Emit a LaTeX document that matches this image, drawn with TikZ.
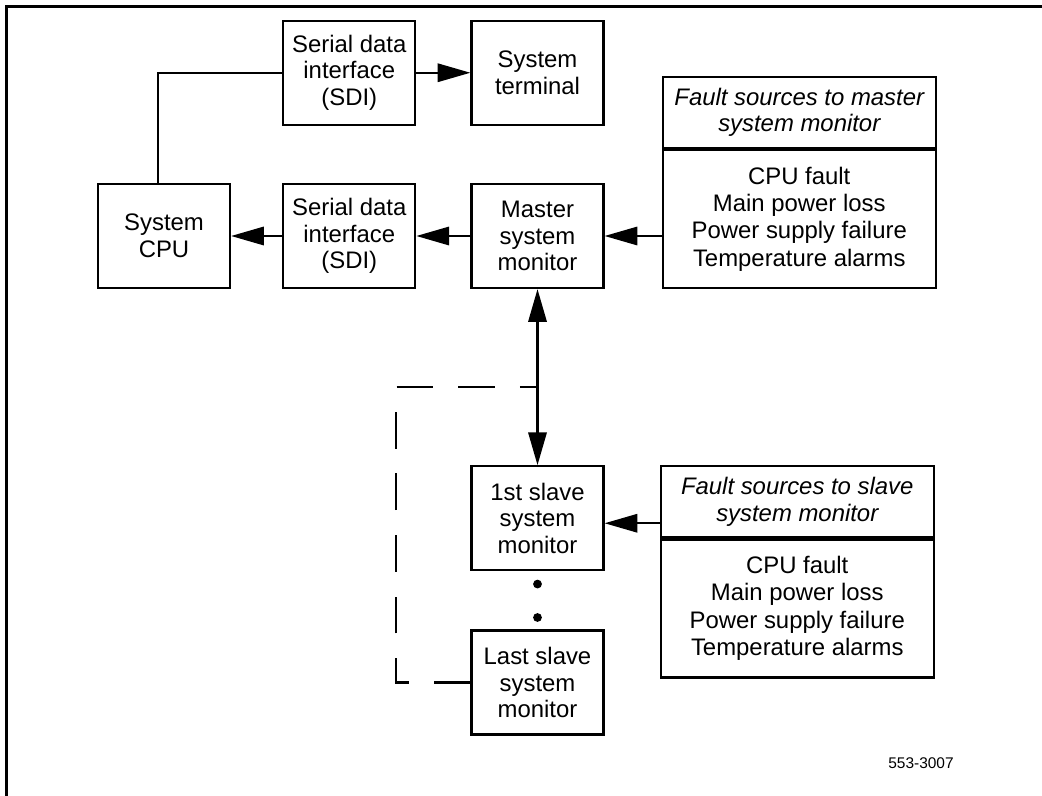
\documentclass[tikz,border=0pt]{standalone}
\usepackage{fontspec}
\setmainfont{Liberation Sans}
\usetikzlibrary{positioning,arrows.meta,calc}

\begin{document}
\begin{tikzpicture}[node distance=1.35cm,
  box/.style={draw, rectangle, line width=1.6pt, minimum width=3.3cm, minimum height=2.6cm, align=center, font=\fontsize{17}{19}\selectfont},
  faulthead/.style={draw, rectangle, line width=1.6pt, minimum width=6.825cm, minimum height=1.775cm, align=center, font=\fontsize{17}{19}\selectfont\itshape},
  faultbody/.style={draw, rectangle, line width=1.6pt, minimum width=6.825cm, minimum height=3.45cm, align=center, font=\fontsize{17}{19.5}\selectfont},
  link/.style={line width=1.5pt},
  flow/.style={line width=1.5pt, -{Triangle[length=0.82cm,width=0.46cm]}},
  twoway/.style={line width=1.5pt, {Triangle[length=0.82cm,width=0.46cm]}-{Triangle[length=0.82cm,width=0.46cm]}},
  dashline/.style={line width=1.5pt, dash pattern=on 0.92cm off 0.62cm},
  dot/.style={circle, fill, inner sep=0pt, minimum size=0.22cm}]
\useasboundingbox (0,0) rectangle (26.05,-19.9);
\draw[line width=2.2pt] (0.1625,-19.9) |- (26.05,-0.1625);

% Nodes
\node[box] (cpu) at (4.1,-5.9) {System\\CPU};
\node[box, right=1.275cm of cpu] (sdiB) {Serial data\\interface\\(SDI)};
\node[box, right=of sdiB] (master) {Master\\system\\monitor};
\node[box, above=1.425cm of sdiB] (sdiA) {Serial data\\interface\\(SDI)};
\node[box, right=of sdiA] (terminal) {System\\terminal};
\node[box, below=4.4cm of master] (slave1) {1st slave\\system\\monitor};
\node[box, below=1.45cm of slave1] (slave2) {Last slave\\system\\monitor};
\node[dot, below=0.2cm of slave1] (dotA) {};
\node[dot, above=0.18cm of slave2] (dotB) {};

% Fault sources
\node[faultbody, anchor=south west] (mbody) at ([xshift=1.425cm]master.south east) {CPU fault\\Main power loss\\Power supply failure\\Temperature alarms};
\node[faulthead, above=0pt of mbody] (mhead) {Fault sources to master\\system monitor};
\node[faulthead, anchor=north west] (shead) at ([xshift=1.375cm]slave1.north east) {Fault sources to slave\\system monitor};
\node[faultbody, below=0pt of shead] (sbody) {CPU fault\\Main power loss\\Power supply failure\\Temperature alarms};

\node[font=\fontsize{11}{13}\selectfont] (figno) at (23.025,-19.075) {553-3007};

% Arrows
\draw[link] (sdiA.west) -| ([xshift=-0.15cm]cpu.north);
\draw[flow] (sdiA) -- (terminal);
\draw[flow] (sdiB) -- (cpu);
\draw[flow] (master) -- (sdiB);
\draw[flow] (master -| mbody.west) -- (master);
\draw[flow] ([yshift=-0.125cm]slave1.east -| shead.west) -- ([yshift=-0.125cm]slave1.east);
\draw[twoway] (master) -- (slave1);

% Dashed return
\coordinate (tap) at ($(master.south)!0.557!(slave1.north)$);
\coordinate (corner) at ([xshift=-1.85cm]slave2.west);
\draw[dashline] (slave2.west) -- (corner) |- (tap);
\end{tikzpicture}
\end{document}
